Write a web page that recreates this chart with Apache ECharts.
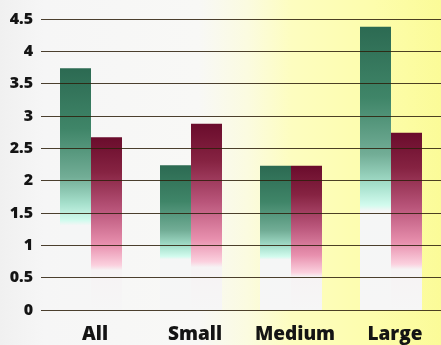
<!DOCTYPE html>
<html>
<head>
<meta charset="utf-8">
<script src="https://cdn.jsdelivr.net/npm/echarts@6/dist/echarts.min.js"></script>
<style>
  html, body { margin: 0; padding: 0; }
  #chart { width: 441px; height: 345px; }
</style>
</head>
<body>
<div id="chart"></div>
<script>
// Firm size groups and the two measured series
const categories = ['All', 'Small', 'Medium', 'Large'];
const seriesA = [3.74, 2.24, 2.23, 4.38];
const seriesB = [2.67, 2.88, 2.23, 2.74];
const yTicks = [0, 0.5, 1, 1.5, 2, 2.5, 3, 3.5, 4, 4.5];

const chart = echarts.init(document.getElementById('chart'));
const LG = echarts.graphic.LinearGradient;

// Bars fade from a dark top colour down to almost white at the base
const greenFill = new LG(0, 0, 0, 1, [
  { offset: 0.00, color: '#2c6a52' },
  { offset: 0.25, color: '#3f8568' },
  { offset: 0.45, color: '#72ad96' },
  { offset: 0.56, color: '#a6e0cc' },
  { offset: 0.63, color: '#d2fbee' },
  { offset: 0.65, color: '#f5f6f6' },
  { offset: 1.00, color: '#f6f6f6' }
]);
const redFill = new LG(0, 0, 0, 1, [
  { offset: 0.00, color: '#6a0c2c' },
  { offset: 0.20, color: '#862342' },
  { offset: 0.42, color: '#b9557a' },
  { offset: 0.62, color: '#e890ae' },
  { offset: 0.74, color: '#fbd0de' },
  { offset: 0.77, color: '#f6f3f4' },
  { offset: 1.00, color: '#f6f6f6' }
]);

chart.setOption({
  animation: false,
  backgroundColor: new LG(0, 0, 1, 0, [
    { offset: 0.00, color: '#f0f0f0' },
    { offset: 0.10, color: '#f6f6f6' },
    { offset: 0.45, color: '#f8f8f6' },
    { offset: 0.56, color: '#fbfbe0' },
    { offset: 0.66, color: '#fdfdc0' },
    { offset: 0.85, color: '#fdfdac' },
    { offset: 1.00, color: '#fbfb98' }
  ]),
  grid: { left: 41, right: -7, top: 19, bottom: 35, containLabel: false },
  xAxis: {
    type: 'category',
    data: categories,
    axisLine: { show: false },
    axisTick: { show: false },
    axisLabel: {
      interval: 0,
      margin: 15,
      padding: [0, 0, 0, 8],
      color: '#141414',
      fontFamily: 'Open Sans',
      fontWeight: 800,
      fontSize: 19
    }
  },
  yAxis: {
    type: 'value',
    min: 0,
    max: 4.5,
    interval: 0.5,
    z: 5,
    axisLine: { show: false },
    axisTick: { show: false },
    splitLine: { lineStyle: { color: 'rgba(45,30,10,0.85)', width: 1 } },
    axisLabel: {
      margin: 8,
      color: '#141414',
      fontFamily: 'Open Sans',
      fontWeight: 800,
      fontSize: 16,
      formatter: v => yTicks.includes(v) ? String(v) : ''
    }
  },
  series: [
    {
      type: 'bar',
      data: seriesA,
      barWidth: 31,
      barGap: '0%',
      itemStyle: { color: greenFill }
    },
    {
      type: 'bar',
      data: seriesB,
      barWidth: 31,
      itemStyle: { color: redFill }
    }
  ]
});
</script>
</body>
</html>
